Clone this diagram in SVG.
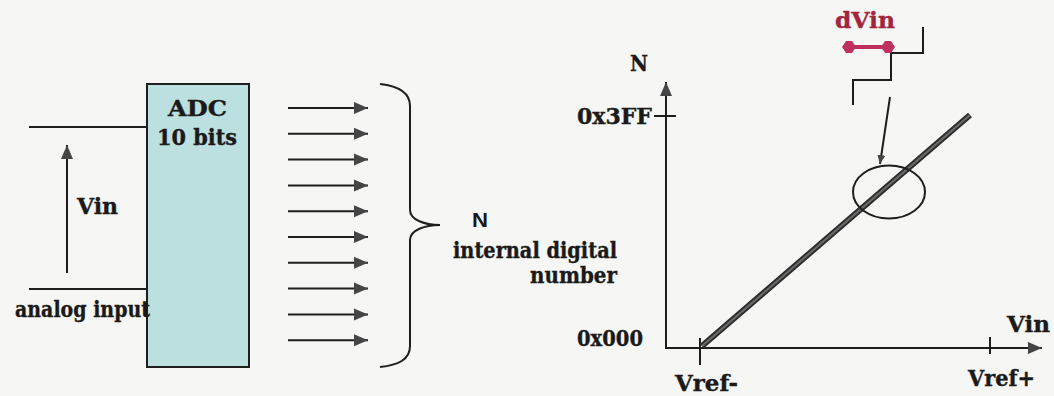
<svg xmlns="http://www.w3.org/2000/svg" width="1054" height="396" viewBox="0 0 1054 396">
<defs>
<marker id="ah" markerUnits="userSpaceOnUse" markerWidth="15" markerHeight="13" refX="14" refY="6.5" orient="auto"><path d="M0,0.5 L14,6.5 L0,12.5 Z" fill="#454545"/></marker>
<marker id="ahs" markerUnits="userSpaceOnUse" markerWidth="10" markerHeight="10" refX="9" refY="5" orient="auto"><path d="M0,1 L9,5 L0,9 Z" fill="#454545"/></marker>
</defs>
<style>
.t{font-family:"DejaVu Serif","Liberation Serif",serif;font-weight:bold;font-size:23px;fill:#1a1a1a;stroke:#1a1a1a;stroke-width:0.4}
.s{font-family:"Liberation Sans",Arial,sans-serif;font-weight:bold;font-size:21px;fill:#1a1a1a}
.ln{stroke:#1e1e1e;stroke-width:2;fill:none}
.ar{stroke:#1e1e1e;stroke-width:2;fill:none;marker-end:url(#ah)}
</style>
<rect width="1054" height="396" fill="#f6f6f4"/>

<g id="adc">
<rect x="147" y="84" width="102" height="283" fill="#bcdfe0" stroke="#1e1e1e" stroke-width="2"/>
<text class="t" x="168" y="116" textLength="59" lengthAdjust="spacingAndGlyphs">ADC</text>
<text class="t" x="157" y="145" textLength="80" lengthAdjust="spacingAndGlyphs">10 bits</text>
</g>

<g id="analog-input">
<line class="ln" x1="29" y1="127" x2="147" y2="127"/>
<line class="ln" x1="29" y1="289" x2="147" y2="289"/>
<text class="t" x="15" y="317" textLength="135" lengthAdjust="spacingAndGlyphs">analog input</text>
</g>

<g id="vin-label">
<text class="t" x="77" y="214" textLength="41" lengthAdjust="spacingAndGlyphs">Vin</text>
</g>

<g id="brace">
<path class="ln" d="M380,84 C398,86 410,92 410,106 L410,210 C410,220 425,225 440,225 C425,225 410,230 410,240 L410,346 C410,360 398,365 380,367"/>
</g>

<g id="n-label">
<text class="s" x="472" y="227" textLength="16" lengthAdjust="spacingAndGlyphs">N</text>
<text class="t" x="453" y="258" textLength="164" lengthAdjust="spacingAndGlyphs">internal digital</text>
<text class="t" x="530" y="283" textLength="87" lengthAdjust="spacingAndGlyphs">number</text>
</g>

<g id="axes">
<line class="ln" x1="666" y1="349" x2="666" y2="82" marker-end="url(#ah)"/>
<line class="ln" x1="665" y1="348" x2="1042" y2="348" marker-end="url(#ah)"/>
<line class="ln" x1="654" y1="116" x2="676" y2="116"/>
<line class="ln" x1="700" y1="338" x2="700" y2="365"/>
<line class="ln" x1="990" y1="337" x2="990" y2="354"/>
<text class="t" x="630" y="71" textLength="18" lengthAdjust="spacingAndGlyphs">N</text>
<text class="t" x="577" y="124" textLength="75" lengthAdjust="spacingAndGlyphs">0x3FF</text>
<text class="t" x="577" y="346" textLength="66" lengthAdjust="spacingAndGlyphs">0x000</text>
<text class="t" x="675" y="391" textLength="63" lengthAdjust="spacingAndGlyphs">Vref-</text>
<text class="t" x="968" y="386" textLength="67" lengthAdjust="spacingAndGlyphs">Vref+</text>
<text class="t" x="1007" y="332" textLength="43" lengthAdjust="spacingAndGlyphs">Vin</text>
</g>

<g id="transfer-line">
<line x1="702" y1="346" x2="970" y2="115" stroke="#2e2e2e" stroke-width="6"/>
<line x1="702" y1="346" x2="970" y2="115" stroke="#6c6c6c" stroke-width="2"/>
</g>

<g id="zoom-circle">
<ellipse cx="889" cy="192" rx="36" ry="26.5" fill="none" stroke="#1e1e1e" stroke-width="2"/>
</g>

<g id="step">
<polyline class="ln" points="853,105 853,80 891,80 891,53 923,53 923,27"/>
</g>

<g id="dvin">
<line x1="850" y1="47" x2="887" y2="47" stroke="#c0305c" stroke-width="4"/>
<polygon points="842,47 846,41 852,41 856,47 852,53 846,53" fill="#c0305c"/>
<polygon points="881,47 885,41 891,41 895,47 891,53 885,53" fill="#c0305c"/>
<text class="t" x="835" y="28" textLength="60" lengthAdjust="spacingAndGlyphs" style="fill:#a3243f;stroke:#a3243f">dVin</text>
</g>

<g id="connectors">
<line class="ar" x1="67" y1="273" x2="67" y2="145"/>
<line class="ar" x1="288" y1="108" x2="368" y2="108"/>
<line class="ar" x1="288" y1="133.8" x2="368" y2="133.8"/>
<line class="ar" x1="288" y1="159.6" x2="368" y2="159.6"/>
<line class="ar" x1="288" y1="185.4" x2="368" y2="185.4"/>
<line class="ar" x1="288" y1="211.2" x2="368" y2="211.2"/>
<line class="ar" x1="288" y1="237" x2="368" y2="237"/>
<line class="ar" x1="288" y1="262.8" x2="368" y2="262.8"/>
<line class="ar" x1="288" y1="288.6" x2="368" y2="288.6"/>
<line class="ar" x1="288" y1="314.4" x2="368" y2="314.4"/>
<line class="ar" x1="288" y1="340.2" x2="368" y2="340.2"/>
<line x1="890" y1="97" x2="880" y2="164" stroke="#1e1e1e" stroke-width="2" marker-end="url(#ahs)"/>
</g>
</svg>
